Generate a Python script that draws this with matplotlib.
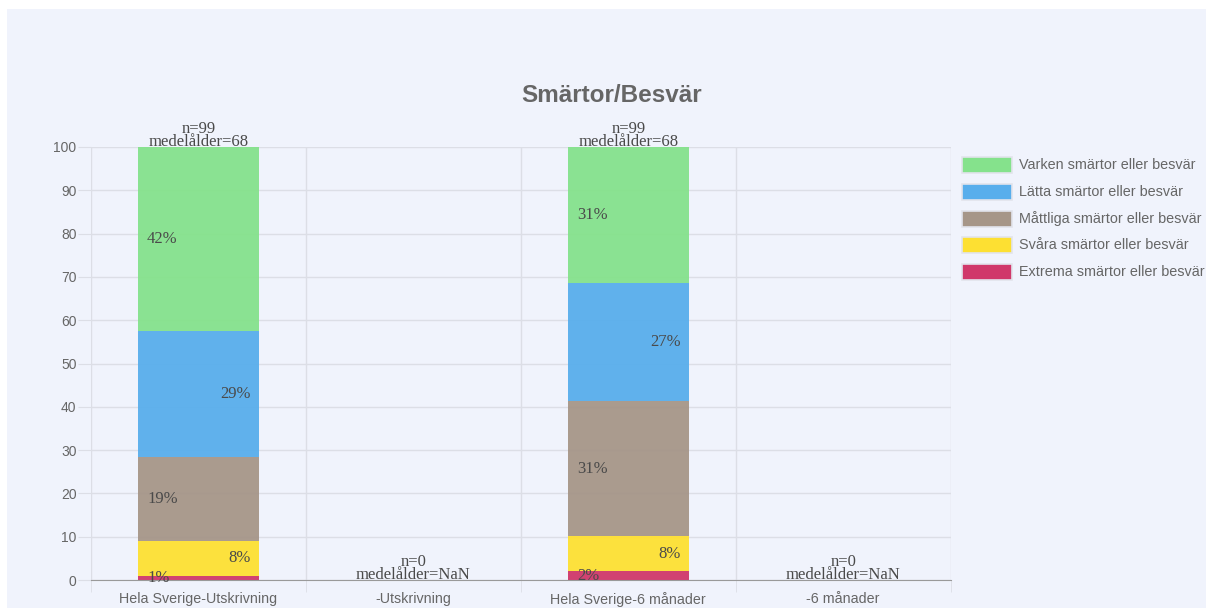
#!/usr/bin/env python3
"""Smärtor/Besvär: stacked percentage bars per group, Chart.js look."""

import matplotlib
matplotlib.use("Agg")
import matplotlib.pyplot as plt
from matplotlib.patches import Rectangle

W, H = 1206, 608

categories = ["Hela Sverige-Utskrivning", "-Utskrivning",
              "Hela Sverige-6 månader", "-6 månader"]

# stacked bottom -> top
series = ["Extrema smärtor eller besvär", "Svåra smärtor eller besvär",
          "Måttliga smärtor eller besvär", "Lätta smärtor eller besvär",
          "Varken smärtor eller besvär"]
extrema = [1.0, 0, 2.0, 0]
svara = [8.1, 0, 8.1, 0]
mattliga = [19.2, 0, 31.3, 0]
latta = [29.3, 0, 27.3, 0]
varken = [42.4, 0, 31.3, 0]

n_values = [99, 0, 99, 0]
mean_age = ["68", "NaN", "68", "NaN"]

colors = ["#D0386A", "#FDE032", "#A69688", "#58AEEC", "#85E28C"]

GRID = "#DCDEE6"
TXT = "#666666"
BG = "#F0F3FC"

fig = plt.figure(figsize=(W / 100, H / 100), dpi=100)
fig.patch.set_facecolor("white")
fig.patches.append(Rectangle((7 / W, 0), 1, 599 / H, transform=fig.transFigure,
                             facecolor=BG, edgecolor="none", zorder=-10))

ax = fig.add_axes([91 / W, 28 / H, (950.7 - 91) / W, 433 / H])
ax.set_facecolor("none")

x = list(range(len(categories)))
width = 0.563
stack = [extrema, svara, mattliga, latta, varken]
bottoms = [0.0] * len(categories)
for k, (vals, col) in enumerate(zip(stack, colors)):
    ax.bar(x, vals, width, bottom=bottoms, color=col, alpha=0.95,
           edgecolor="none", zorder=2)
    for i, v in enumerate(vals):
        if v <= 0:
            continue
        mid = bottoms[i] + v / 2
        if k % 2 == 0:
            ax.annotate(f"{round(v)}%", (i - width / 2, mid), xytext=(6.5, 0),
                        textcoords="offset points", ha="left", va="center",
                        fontsize=12, family="Liberation Serif", color="#4a4a4a",
                        zorder=4)
        else:
            ax.annotate(f"{round(v)}%", (i + width / 2, mid), xytext=(-6, 0),
                        textcoords="offset points", ha="right", va="center",
                        fontsize=12, family="Liberation Serif", color="#4a4a4a",
                        zorder=4)
    bottoms = [b + v for b, v in zip(bottoms, vals)]

# n / medelålder above each stack
for i, top in enumerate(bottoms):
    ax.annotate(f"medelålder={mean_age[i]}", (i, top), xytext=(0, 0.8),
                textcoords="offset points", ha="center", va="baseline",
                fontsize=12, family="Liberation Serif", color="#4a4a4a",
                annotation_clip=False, zorder=4)
    ax.annotate(f"n={n_values[i]}", (i, top), xytext=(0, 9.8),
                textcoords="offset points", ha="center", va="baseline",
                fontsize=12, family="Liberation Serif", color="#4a4a4a",
                annotation_clip=False, zorder=4)

ax.set_xlim(-0.5, len(categories) - 0.5)
ax.set_ylim(0, 100)
ax.set_yticks(range(0, 101, 10))
ax.set_xticks(x)
ax.set_xticklabels(categories)
ax.set_xticks([i - 0.5 for i in range(len(categories) + 1)], minor=True)

for s in ["top", "right", "left"]:
    ax.spines[s].set_visible(False)
ax.spines["bottom"].set_color("#9a9a9a")
ax.spines["bottom"].set_zorder(3)

ax.grid(axis="y", color=GRID, linewidth=1, zorder=0)
ax.grid(axis="x", which="minor", color=GRID, linewidth=1, zorder=0)
ax.tick_params(axis="y", length=9.4, color=GRID, labelcolor=TXT,
               labelsize=10, pad=1)
ax.tick_params(axis="x", which="major", length=0, labelcolor=TXT,
               labelsize=10.3, pad=8.5)
ax.tick_params(axis="x", which="minor", length=8.6, color=GRID)
for lab in ax.get_xticklabels() + ax.get_yticklabels():
    lab.set_family("Liberation Sans")

fig.text(612 / W, 1 - 95 / H, "Smärtor/Besvär", ha="center", va="center",
         fontsize=17.5, fontweight="bold", color=TXT, family="Liberation Sans")

# legend, top entry first
for j, k in enumerate(reversed(range(len(series)))):
    yc = 165 + j * 26.8
    fig.patches.append(Rectangle((962 / W, 1 - (yc + 8) / H), 50 / W, 16 / H,
                                 transform=fig.transFigure, facecolor=colors[k],
                                 edgecolor="#E2E4EC", linewidth=1.2))
    fig.text(1019 / W, 1 - yc / H, series[k], ha="left", va="center",
             fontsize=10.4, color=TXT, family="Liberation Sans")

fig.savefig("out.png", dpi=100)
